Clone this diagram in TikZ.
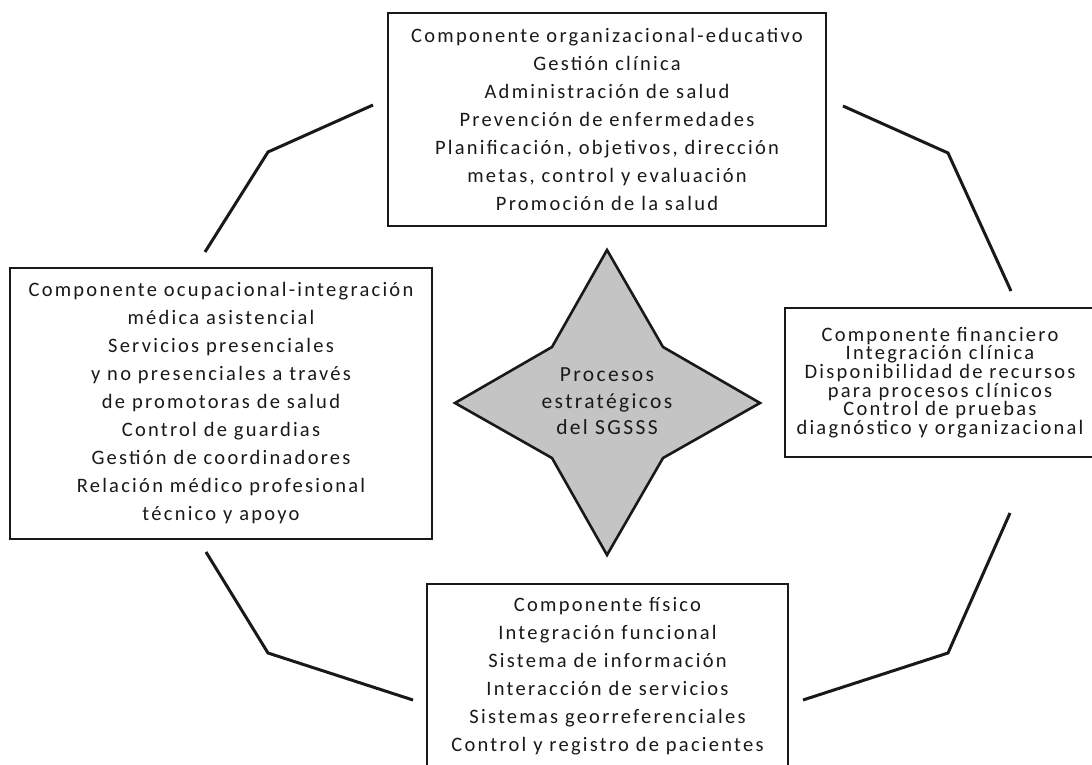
\documentclass[tikz,border=0pt]{standalone}
\usepackage{fontspec}
\setmainfont[LetterSpace=11]{Carlito}
\definecolor{starfill}{RGB}{196,196,196}
\definecolor{inkc}{RGB}{25,25,25}
\newcommand\mytightls{\lineskiplimit=-100pt\relax}
\begin{document}
\begin{tikzpicture}[x=1pt,y=-1pt,
  box/.style={draw=inkc, line width=1.4pt, inner sep=0pt, align=center, text=inkc,
    font=\fontsize{20.5}{28}\selectfont\mytightls},
  tightbox/.style={box, font=\fontsize{20.5}{18.7}\selectfont\mytightls},
  link/.style={line width=3pt, draw=inkc},
  starsty/.style={draw=inkc, line width=2.6pt, fill=starfill, line join=miter},
  startext/.style={align=center, text=inkc, inner sep=0pt,
    font=\fontsize{21.5}{26.5}\selectfont\mytightls}]
\useasboundingbox (0,0) rectangle (1092,765);
\fill[white] (0,0) rectangle (1092,765);

% boxes
\node[box, minimum width=438pt, minimum height=213pt] (top) at (607,119.5)
  {Componente organizacional-educativo\\Gestión clínica\\Administración de salud\\Prevención de enfermedades\\Planificación, objetivos, dirección\\metas, control y evaluación\\Promoción de la salud};
\node[box, minimum width=422pt, minimum height=271pt] (left) at (221,403.5)
  {Componente ocupacional-integración\\médica asistencial\\Servicios presenciales\\y no presenciales a través\\de promotoras de salud\\Control de guardias\\Gestión de coordinadores\\Relación médico profesional\\técnico y apoyo};
\node[tightbox, minimum width=310pt, minimum height=149pt] (right) at (940,382.5)
  {Componente financiero\\Integración clínica\\Disponibilidad de recursos\\para procesos clínicos\\Control de pruebas\\diagnóstico y organizacional};
\node[box, minimum width=361pt, minimum height=184pt] (bottom) at (607.5,676)
  {Componente físico\\Integración funcional\\Sistema de información\\Interacción de servicios\\Sistemas georreferenciales\\Control y registro de pacientes};

% central star
\draw[starsty] (607,250) -- (663,347) -- (760,403) -- (663,458) -- (607,555)
  -- (552,458) -- (455,403) -- (552,347) -- cycle;
\node[startext] (core) at (607,401.5) {Procesos\\estratégicos\\del SGSSS};

% connectors
\coordinate (tla) at (373,105); \coordinate (tlb) at (268,152); \coordinate (tlc) at (205,252);
\coordinate (tra) at (843,106); \coordinate (trb) at (948,153); \coordinate (trc) at (1011,291);
\coordinate (bla) at (206,552); \coordinate (blb) at (268,653); \coordinate (blc) at (413,700);
\coordinate (bra) at (1010,513); \coordinate (brb) at (948,653); \coordinate (brc) at (803,700);
\draw[link] (tla) -- (tlb) -- (tlc);
\draw[link] (tra) -- (trb) -- (trc);
\draw[link] (bla) -- (blb) -- (blc);
\draw[link] (bra) -- (brb) -- (brc);
\end{tikzpicture}
\end{document}
